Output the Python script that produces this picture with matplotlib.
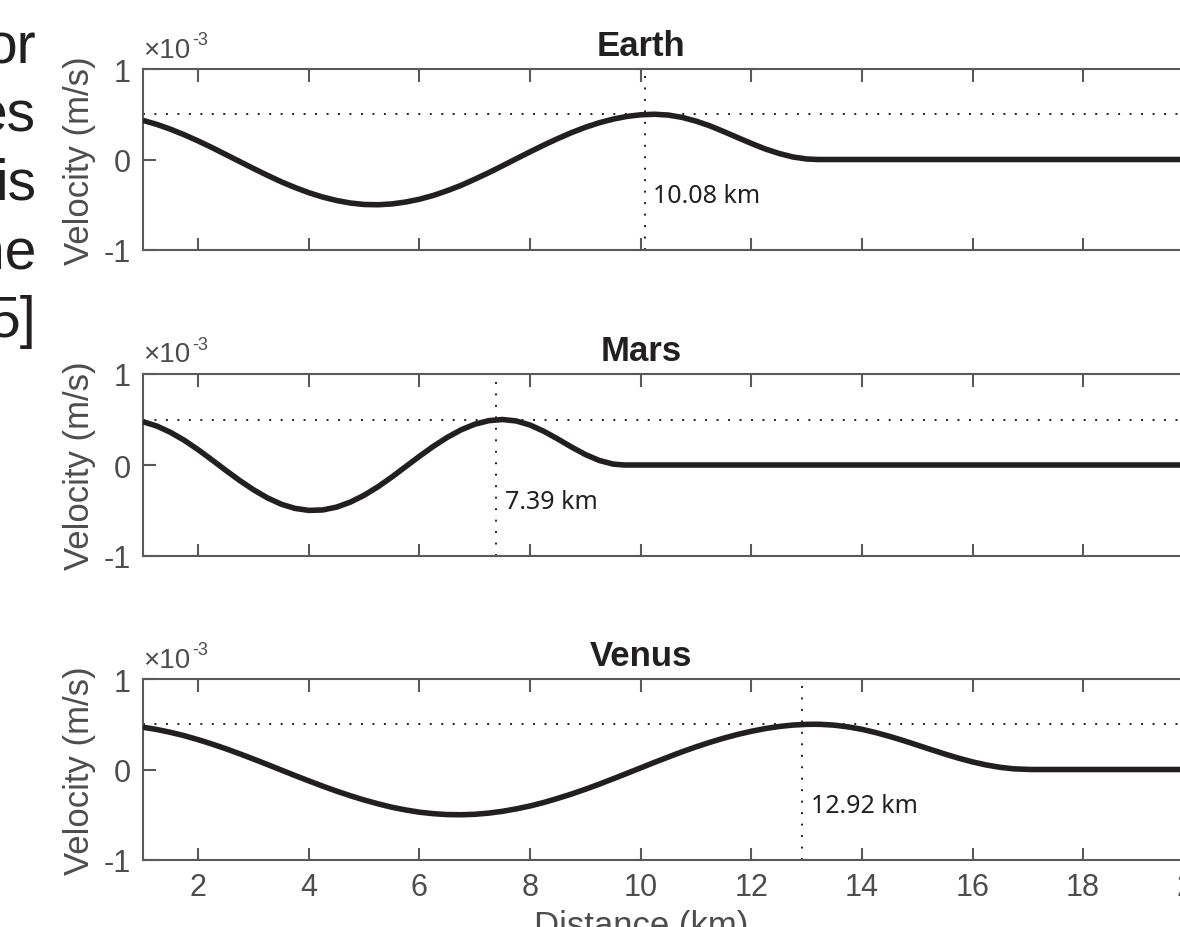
import matplotlib
matplotlib.use("Agg")
import matplotlib.pyplot as plt

plt.rcParams['font.family'] = ['Liberation Sans', 'DejaVu Sans']
plt.rcParams['axes.unicode_minus'] = False

# ---------------- data (velocity in units of 1e-3 m/s) ----------------
earth_x = [1.0, 1.25, 1.5, 1.75, 2.0, 2.25, 2.5, 2.75, 3.0, 3.25, 3.5, 3.75, 4.0, 4.25,
           4.5, 4.75, 5.0, 5.25, 5.5, 5.75, 6.0, 6.25, 6.5, 6.75, 7.0, 7.25, 7.5, 7.75,
           8.0, 8.25, 8.5, 8.75, 9.0, 9.25, 9.5, 9.75, 10.0, 10.25, 10.5, 10.75, 11.0,
           11.25, 11.5, 11.75, 12.0, 12.25, 12.5, 12.75, 13.0, 13.2, 22.0]
earth_v = [0.432, 0.388, 0.334, 0.272, 0.204, 0.131, 0.054, -0.023, -0.100, -0.175,
           -0.246, -0.310, -0.367, -0.415, -0.453, -0.481, -0.497, -0.500, -0.491,
           -0.470, -0.439, -0.397, -0.345, -0.286, -0.218, -0.146, -0.070, 0.008,
           0.085, 0.160, 0.231, 0.297, 0.356, 0.406, 0.446, 0.476, 0.494, 0.500,
           0.491, 0.465, 0.424, 0.372, 0.309, 0.243, 0.178, 0.117, 0.067, 0.028,
           0.006, 0.0, 0.0]

mars_x = [1.0, 1.25, 1.5, 1.75, 2.0, 2.25, 2.5, 2.75, 3.0, 3.25, 3.5, 3.75, 4.0, 4.25,
          4.5, 4.75, 5.0, 5.25, 5.5, 5.75, 6.0, 6.25, 6.5, 6.75, 7.0, 7.25, 7.5, 7.75,
          8.0, 8.25, 8.5, 8.75, 9.0, 9.25, 9.5, 9.7, 22.0]
mars_v = [0.476, 0.428, 0.358, 0.270, 0.167, 0.055, -0.060, -0.171, -0.273, -0.361,
          -0.431, -0.477, -0.499, -0.494, -0.463, -0.408, -0.332, -0.239, -0.132,
          -0.018, 0.096, 0.205, 0.303, 0.386, 0.448, 0.487, 0.500, 0.484, 0.439,
          0.370, 0.286, 0.197, 0.115, 0.050, 0.010, 0.0, 0.0]

venus_x = [1.0, 1.25, 1.5, 1.75, 2.0, 2.25, 2.5, 2.75, 3.0, 3.25, 3.5, 3.75, 4.0, 4.25,
           4.5, 4.75, 5.0, 5.25, 5.5, 5.75, 6.0, 6.25, 6.5, 6.75, 7.0, 7.25, 7.5, 7.75,
           8.0, 8.25, 8.5, 8.75, 9.0, 9.25, 9.5, 9.75, 10.0, 10.25, 10.5, 10.75, 11.0,
           11.25, 11.5, 11.75, 12.0, 12.25, 12.5, 12.75, 13.0, 13.15, 13.25, 13.5,
           13.75, 14.0, 14.25, 14.5, 14.75, 15.0, 15.25, 15.5, 15.75, 16.0, 16.25,
           16.5, 16.75, 17.05, 22.0]
venus_v = [0.467, 0.442, 0.410, 0.373, 0.329, 0.281, 0.229, 0.173, 0.115, 0.055,
           -0.006, -0.067, -0.126, -0.184, -0.239, -0.290, -0.337, -0.379, -0.417,
           -0.447, -0.472, -0.488, -0.498, -0.500, -0.495, -0.482, -0.462, -0.435,
           -0.403, -0.364, -0.319, -0.271, -0.218, -0.162, -0.103, -0.043, 0.018,
           0.079, 0.138, 0.196, 0.250, 0.300, 0.346, 0.387, 0.422, 0.452, 0.475,
           0.491, 0.499, 0.500, 0.499, 0.490, 0.471, 0.444, 0.408, 0.366, 0.320,
           0.270, 0.220, 0.171, 0.125, 0.084, 0.050, 0.024, 0.007, 0.0, 0.0]

titles = ["Earth", "Mars", "Venus"]
peak_km = [10.08, 7.39, 12.92]
series_x = [earth_x, mars_x, venus_x]
series_v = [earth_v, mars_v, venus_v]
ref_level = 0.5
xticks = [2, 4, 6, 8, 10, 12, 14, 16, 18, 20]
yticks = [-1, 0, 1]
side_text = ["or", "es", "is", "he", "5]"]

# ---------------- figure ----------------
W, H = 1180, 928
fig = plt.figure(figsize=(W / 100, H / 100), dpi=100)

axis_col = '#595959'
label_col = '#4d4d4d'
ink = '#231f20'

left_px = 143
px_per_km = 55.3
x0, x1 = 1, 20
ax_w = (x1 - x0) * px_per_km / W
tops = [70, 375, 680]
bots = [251, 557, 861]
center_frac = (641 - left_px) / ((x1 - x0) * px_per_km)

for i in range(3):
    b = 1 - bots[i] / H
    h = (bots[i] - tops[i]) / H
    ax = fig.add_axes([left_px / W, b, ax_w, h])
    ax.plot(series_x[i], series_v[i], color=ink, lw=4.0, solid_joinstyle='round',
            solid_capstyle='butt', zorder=3)
    ax.axhline(ref_level, color=ink, lw=1.4, linestyle=(0, (1, 4.9)), zorder=2)
    ax.axvline(peak_km[i], color=ink, lw=1.4, linestyle=(0, (1, 4.9)), zorder=2)
    ax.annotate(f"{peak_km[i]:.2f} km", xy=(peak_km[i], -0.4), xytext=(6, 0),
                textcoords='offset points', ha='left', va='center',
                fontsize=18, color=ink, family=['Noto Sans', 'DejaVu Sans'])
    ax.set_xlim(x0, x1)
    ax.set_ylim(-1, 1)
    ax.set_xticks(xticks)
    ax.set_yticks(yticks)
    ax.set_yticklabels([str(t) for t in yticks])
    for s in ['top', 'bottom', 'left', 'right']:
        ax.spines[s].set_color(axis_col)
        ax.spines[s].set_linewidth(1.5)
    ax.tick_params(axis='both', direction='in', length=9, width=1.5, color=axis_col,
                   labelcolor=label_col, labelsize=22, top=True, right=True, pad=9)
    if i < 2:
        ax.tick_params(axis='x', labelbottom=False)
    ax.set_ylabel("Velocity (m/s)", fontsize=25, color=label_col, labelpad=5)
    ax.set_title(titles[i], fontsize=25, fontweight='bold', color=ink, pad=10,
                 x=center_frac)
    # exponent label "×10-3"
    ax.annotate("×10", xy=(0.0, 1.0), xycoords='axes fraction', xytext=(0, 9),
                textcoords='offset points', ha='left', va='baseline',
                fontsize=20, color=label_col)
    ax.annotate("-3", xy=(0.0, 1.0), xycoords='axes fraction', xytext=(35.5, 18),
                textcoords='offset points', ha='left', va='baseline',
                fontsize=13, color=label_col)
    if i == 2:
        ax.set_xlabel("Distance (km)", fontsize=25, color=label_col, labelpad=6)
        ax.xaxis.set_label_coords(center_frac, -0.27)

# fragments of neighbouring page text (cropped at left edge)
for k, t in enumerate(side_text):
    fig.text(36 / W, 1 - (63 + 68.5 * k) / H, t, ha='right', va='baseline',
             fontsize=41, color=ink)

fig.savefig("out.png", dpi=100)
